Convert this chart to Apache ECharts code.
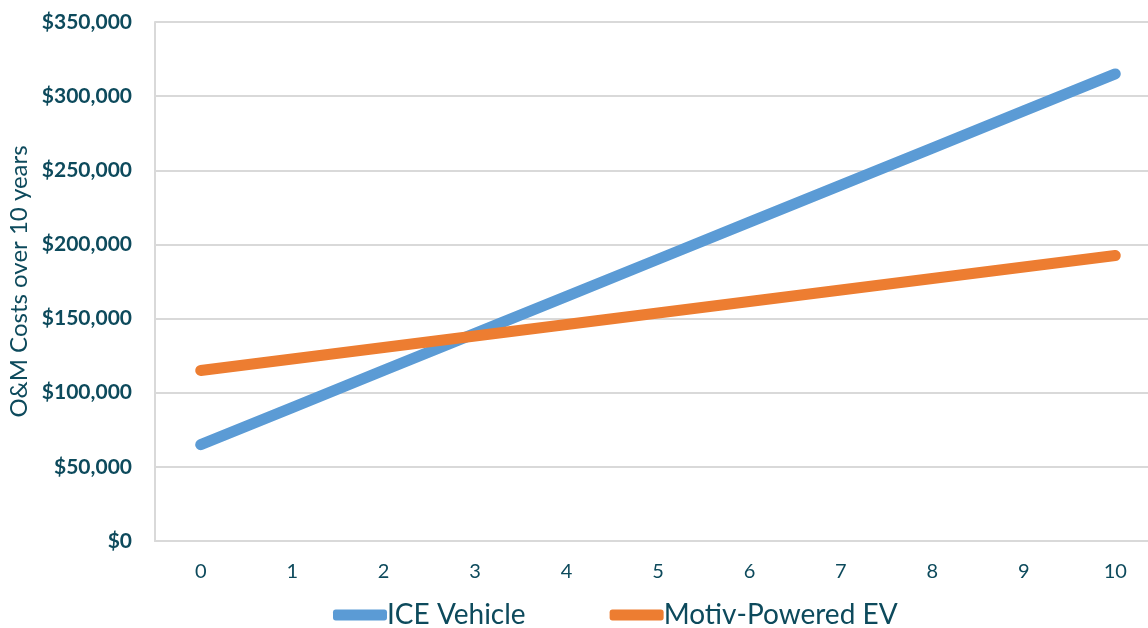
<!DOCTYPE html>
<html>
<head>
<meta charset="utf-8">
<script src="https://cdn.jsdelivr.net/npm/echarts@6/dist/echarts.min.js"></script>
<style>
  html, body { margin: 0; padding: 0; background: #fff; }
</style>
</head>
<body>
<div id="main" style="width:1148px;height:628px;"></div>
<script>
  // years 0..10
  var years = ['0', '1', '2', '3', '4', '5', '6', '7', '8', '9', '10'];
  var iceVehicle = [65000, 90000, 115000, 140000, 165000, 190000, 215000, 240000, 265000, 290000, 315000];
  var motivEV = [115000, 122750, 130500, 138250, 146000, 153750, 161500, 169250, 177000, 184750, 192500];

  var textColor = '#0d4a5c';
  var myChart = echarts.init(document.getElementById('main'));
  var option = {
    animation: false,
    grid: {
      left: 155,
      top: 22,
      right: -13,
      bottom: 87,
      containLabel: false,
      outerBoundsMode: 'none'
    },
    legend: {
      top: 596,
      left: 328,
      itemWidth: 54,
      itemHeight: 11,
      itemGap: 84,
      icon: 'roundRect',
      textStyle: { color: textColor, fontSize: 28, fontFamily: 'Lato', padding: [0, 0, 0, -5] },
      data: ['ICE Vehicle', 'Motiv-Powered EV']
    },
    xAxis: {
      type: 'category',
      data: years,
      boundaryGap: true,
      axisLine: { lineStyle: { color: '#d9d9d9', width: 2 } },
      axisTick: { show: false },
      axisLabel: { color: textColor, fontSize: 20, fontFamily: 'Lato', margin: 21 }
    },
    yAxis: {
      type: 'value',
      min: 0,
      max: 350000,
      interval: 50000,
      name: 'O&M Costs over 10 years',
      nameLocation: 'middle',
      nameGap: 123,
      nameTextStyle: { color: textColor, fontSize: 24, fontFamily: 'Lato' },
      axisLine: { show: true, lineStyle: { color: '#d9d9d9', width: 2 } },
      axisTick: { show: false },
      splitLine: { lineStyle: { color: '#d9d9d9', width: 2 } },
      axisLabel: {
        color: textColor,
        fontSize: 21,
        fontWeight: 'bold',
        fontFamily: 'Lato',
        margin: 23,
        formatter: function (v) {
          return '$' + v.toLocaleString('en-US');
        }
      }
    },
    series: [
      {
        name: 'ICE Vehicle',
        type: 'line',
        data: iceVehicle,
        symbol: 'none',
        color: '#5b9bd5',
        lineStyle: { width: 11, cap: 'round' }
      },
      {
        name: 'Motiv-Powered EV',
        type: 'line',
        data: motivEV,
        symbol: 'none',
        color: '#ed7d31',
        lineStyle: { width: 11, cap: 'round' }
      }
    ]
  };
  myChart.setOption(option);
</script>
</body>
</html>
